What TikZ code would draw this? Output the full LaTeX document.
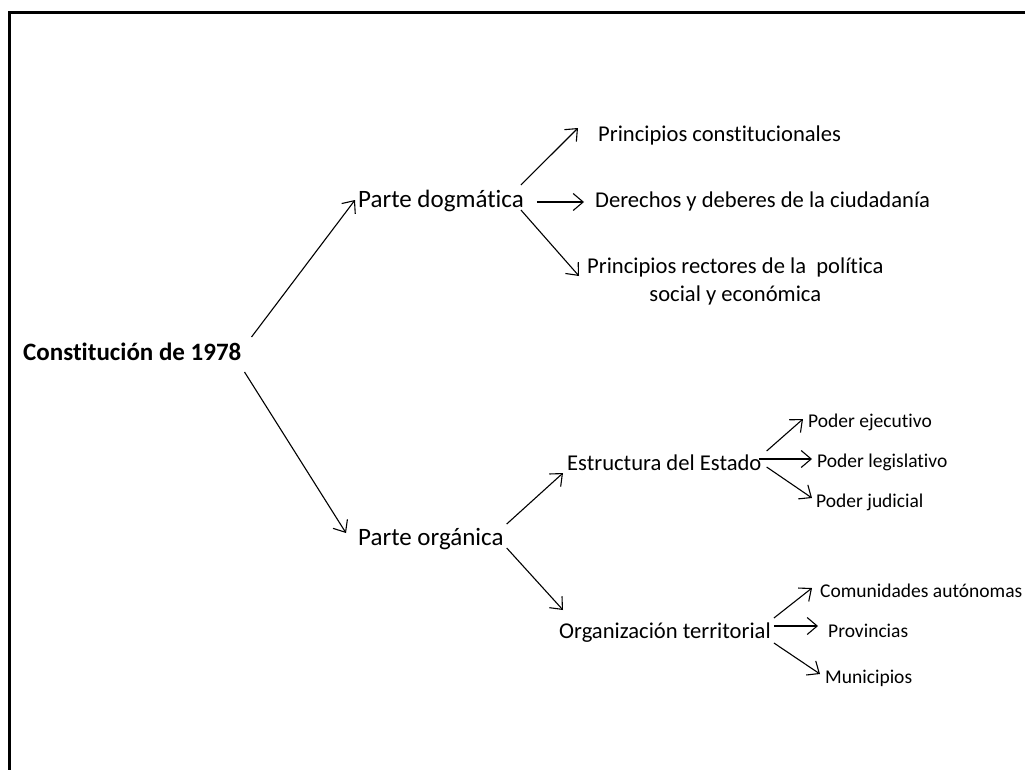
\documentclass[tikz,border=0pt]{standalone}
\usepackage{fontspec}
\setmainfont{Carlito}[Ligatures=NoCommon]
\usetikzlibrary{calc,arrows.meta}

\tikzset{
  txt/.style={inner sep=0pt, anchor=base west},
  big/.style={txt, font=\fontsize{25}{30}\selectfont},
  mid/.style={txt, font=\fontsize{22.6}{28}\selectfont},
  small/.style={txt, font=\fontsize{19.5}{26}\selectfont},
  arr/.style={-{Straight Barb[length=10pt, width=17pt, line width=1.1pt]}, line width=1.1pt},
}

\begin{document}
\begin{tikzpicture}[x=1pt, y=-1pt]
        \clip (0,0) rectangle (1025,769);
        \draw[line width=3pt] (9,12) rectangle (1040,790);

        \node[txt, font=\bfseries\fontsize{25}{30}\selectfont] (const) at (23,360) {Constitución de 1978};

        \node[big] (pdog) at (358,207) {Parte dogmática};
        \node[big] (porg) at (358,545) {Parte orgánica};

        \node[mid] (pcons) at (598,141) {Principios constitucionales};
        \node[mid] (pder) at (595,207) {Derechos y deberes de la ciudadanía};
        \node[mid, anchor=north west, align=center] (prect) at (587,258) {Principios rectores de la\ \ política\\social y económica};

        \node[mid] (estr) at (567,470) {Estructura del Estado};
        \node[small] (pejec) at (808,427) {Poder ejecutivo};
        \node[small] (pleg) at (817,467) {Poder legislativo};
        \node[small] (pjud) at (816,507) {Poder judicial};

        \node[mid] (organ) at (559,638) {Organización territorial};
        \node[small] (pcom) at (820,597) {Comunidades autónomas};
        \node[small] (pprov) at (828,637) {Provincias};
        \node[small] (pmun) at (825,683) {Municipios};

        \draw[arr] ($(const.base east)+(10,-23)$) -- ($(pdog.base west)+(-3,-7)$);
        \draw[arr] ($(const.base east)+(3,12)$) -- ($(porg.base west)+(-12,-12)$);

        \draw[arr] ($(pdog.base east)+(-3,-22)$) -- ($(pcons.base west)+(-20,-13)$);
        \draw[arr] ($(pdog.base east)+(13,-5)$) -- ($(pder.base west)+(-11,-5)$);
        \draw[arr] ($(pdog.base east)+(-3,3)$) -- ($(prect.north west)+(-8,18)$);

        \draw[arr] ($(porg.base east)+(3,-21)$) -- ($(estr.base west)+(-4,3)$);
        \draw[arr] ($(porg.base east)+(3,3)$) -- ($(organ.base west)+(4,-28)$);

        \draw[arr] ($(estr.base east)+(5,-19)$) -- ($(pejec.base west)+(-5,-8)$);
        \draw[arr] ($(estr.base east)+(-3,-11)$) -- ($(pleg.base west)+(-5,-8)$);
        \draw[arr] ($(estr.base east)+(5,-3)$) -- ($(pjud.base west)+(-4,-9)$);

        \draw[arr] ($(organ.base east)+(3,-20)$) -- ($(pcom.base west)+(-8,-9)$);
        \draw[arr] ($(organ.base east)+(3,-12)$) -- ($(pprov.base west)+(-10,-11)$);
        \draw[arr] ($(organ.base east)+(3,5)$) -- ($(pmun.base west)+(-5,-9)$);
\end{tikzpicture}
\end{document}
